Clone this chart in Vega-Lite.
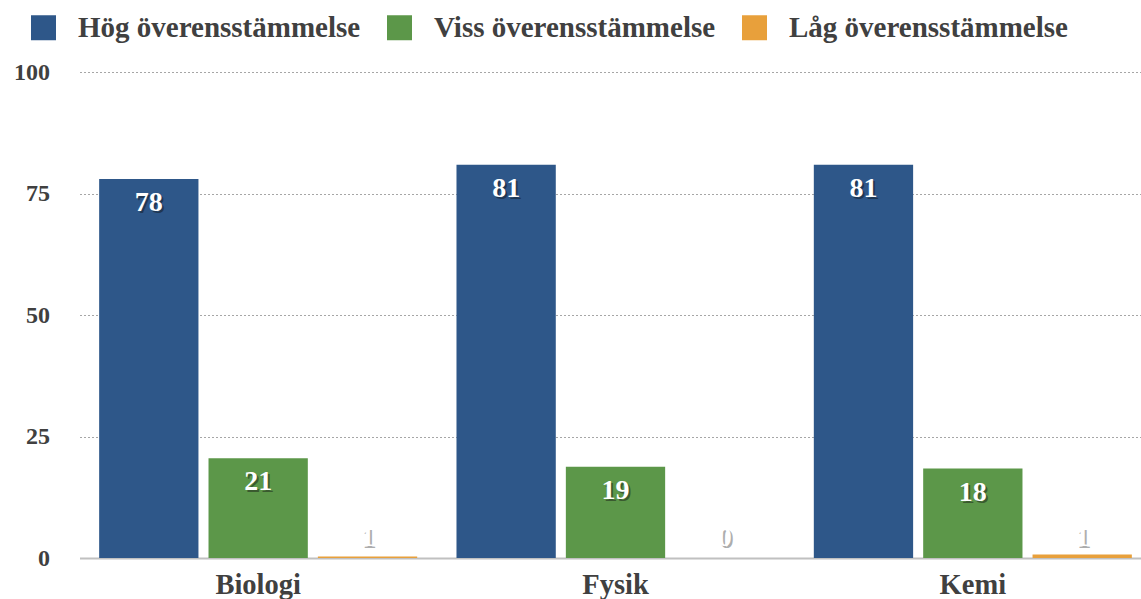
{
  "$schema": "https://vega.github.io/schema/vega-lite/v6.json",
  "width": 1072,
  "height": 486,
  "autosize": "none",
  "padding": {"left": 79.5, "top": 72, "right": 0, "bottom": 41},
  "config": {
    "view": {"stroke": null},
    "font": "Liberation Serif"
  },
  "data": {
    "values": [
      {"Ämne": "Biologi", "Grad": "Hög överensstämmelse", "Andel": 78.0, "Etikett": "78"},
      {"Ämne": "Biologi", "Grad": "Viss överensstämmelse", "Andel": 20.5, "Etikett": "21"},
      {"Ämne": "Biologi", "Grad": "Låg överensstämmelse", "Andel": 0.3, "Etikett": "1"},
      {"Ämne": "Fysik", "Grad": "Hög överensstämmelse", "Andel": 80.9, "Etikett": "81"},
      {"Ämne": "Fysik", "Grad": "Viss överensstämmelse", "Andel": 18.8, "Etikett": "19"},
      {"Ämne": "Fysik", "Grad": "Låg överensstämmelse", "Andel": 0.0, "Etikett": "0"},
      {"Ämne": "Kemi", "Grad": "Hög överensstämmelse", "Andel": 80.9, "Etikett": "81"},
      {"Ämne": "Kemi", "Grad": "Viss överensstämmelse", "Andel": 18.4, "Etikett": "18"},
      {"Ämne": "Kemi", "Grad": "Låg överensstämmelse", "Andel": 0.7, "Etikett": "1"}
    ]
  },
  "encoding": {
    "x": {
      "field": "Ämne",
      "type": "nominal",
      "sort": ["Biologi", "Fysik", "Kemi"],
      "scale": {"paddingInner": 0.11, "paddingOuter": 0.055},
      "axis": {
        "title": null,
        "labelAngle": 0,
        "labelFontSize": 28.5,
        "labelFontWeight": "bold",
        "labelColor": "#404040",
        "labelPadding": 12,
        "ticks": false,
        "domainColor": "#c0c0c0",
        "domainWidth": 2
      }
    },
    "xOffset": {
      "field": "Grad",
      "sort": ["Hög överensstämmelse", "Viss överensstämmelse", "Låg överensstämmelse"],
      "scale": {"paddingInner": 0.092, "paddingOuter": 0}
    }
  },
  "layer": [
    {
      "mark": {"type": "bar"},
      "encoding": {
        "y": {
          "field": "Andel",
          "type": "quantitative",
          "scale": {"domain": [0, 100]},
          "axis": {
            "title": null,
            "values": [0, 25, 50, 75, 100],
            "labelFontSize": 24,
            "labelFontWeight": "bold",
            "labelColor": "#404040",
            "labelPadding": 30,
            "ticks": false,
            "domain": false,
            "gridColor": "#a6a6a6",
            "gridDash": [2, 2],
            "gridWidth": 1
          }
        },
        "color": {
          "field": "Grad",
          "type": "nominal",
          "sort": ["Hög överensstämmelse", "Viss överensstämmelse", "Låg överensstämmelse"],
          "scale": {
            "domain": ["Hög överensstämmelse", "Viss överensstämmelse", "Låg överensstämmelse"],
            "range": ["#2e5789", "#5c9749", "#e8a03b"]
          },
          "legend": {
            "title": null,
            "orient": "none",
            "direction": "horizontal",
            "legendX": -50.5,
            "legendY": -59,
            "symbolType": "square",
            "symbolSize": 625,
            "symbolStrokeWidth": 0,
            "symbolOpacity": 1,
            "labelFontSize": 29,
            "labelFontWeight": "bold",
            "labelColor": "#404040",
            "labelOffset": 20,
            "columnPadding": 24,
            "labelLimit": 500
          }
        }
      }
    },
    {
      "transform": [{"filter": "datum.Andel >= 5"}],
      "mark": {"type": "text", "baseline": "middle", "dy": 26, "dx": 2, "fontSize": 28, "fontWeight": "bold", "color": "#111111", "opacity": 0.45},
      "encoding": {
        "y": {"field": "Andel", "type": "quantitative"},
        "text": {"field": "Etikett"}
      }
    },
    {
      "transform": [{"filter": "datum.Andel >= 5"}],
      "mark": {"type": "text", "baseline": "middle", "dy": 24, "fontSize": 28, "fontWeight": "bold", "color": "#ffffff"},
      "encoding": {
        "y": {"field": "Andel", "type": "quantitative"},
        "text": {"field": "Etikett"}
      }
    },
    {
      "transform": [{"filter": "datum.Andel < 5"}],
      "mark": {"type": "text", "baseline": "middle", "dy": -18, "dx": 2, "fontSize": 28, "fontWeight": "bold", "color": "#777777", "opacity": 0.6},
      "encoding": {
        "y": {"datum": 0, "type": "quantitative"},
        "text": {"field": "Etikett"}
      }
    },
    {
      "transform": [{"filter": "datum.Andel < 5"}],
      "mark": {"type": "text", "baseline": "middle", "dy": -20, "fontSize": 28, "fontWeight": "bold", "color": "#ffffff"},
      "encoding": {
        "y": {"datum": 0, "type": "quantitative"},
        "text": {"field": "Etikett"}
      }
    }
  ]
}
